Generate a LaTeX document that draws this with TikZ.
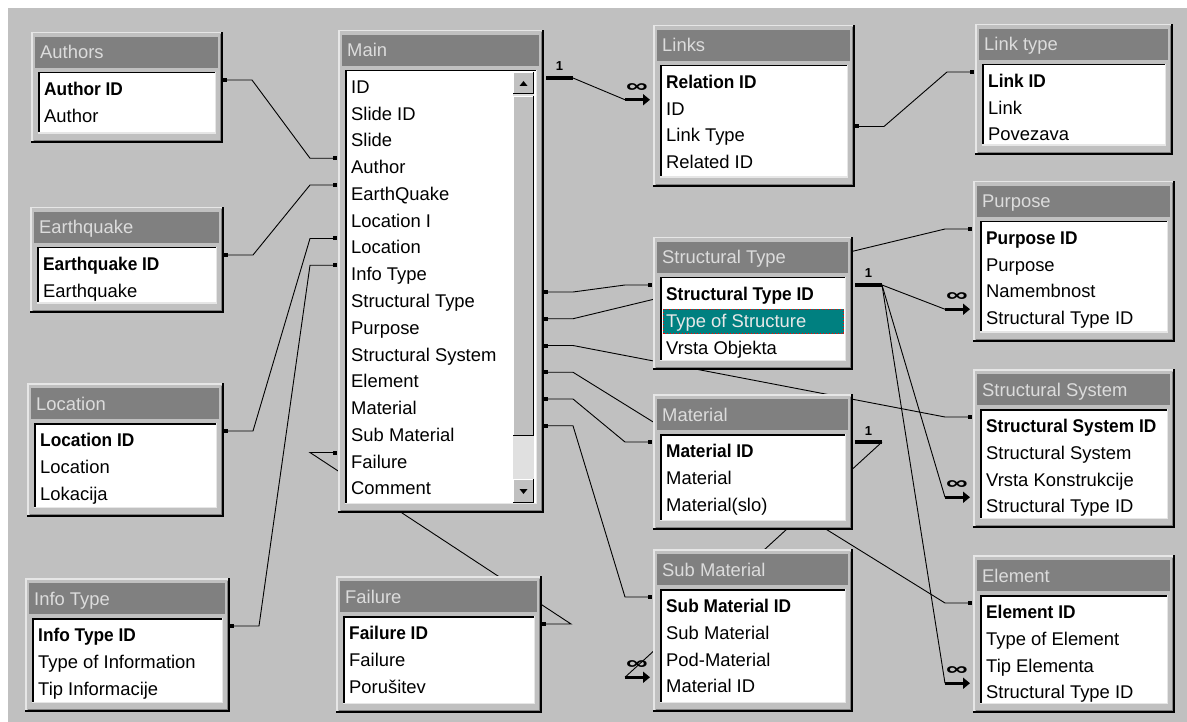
\documentclass[tikz,border=0pt]{standalone}
\usepackage{fontspec}
\setmainfont{Liberation Sans}
\usetikzlibrary{arrows.meta}

\definecolor{winface}{HTML}{C0C0C0}
\definecolor{wintitle}{HTML}{808080}
\definecolor{titletext}{HTML}{DCDCDC}
\definecolor{hlfill}{HTML}{008080}
\definecolor{hltext}{HTML}{E8E8E8}
\definecolor{track}{HTML}{E0E0E0}
\definecolor{rim}{HTML}{E6E6E6}

\pgfdeclarelayer{canvas}
\pgfdeclarelayer{wires}
\pgfsetlayers{canvas,wires,main}

\tikzset{
  rowtext/.style={anchor=west, inner sep=0pt, text height=13pt, text depth=4pt,
    font=\fontsize{18.4}{20}\selectfont},
  tbltitle/.style={anchor=west, inner sep=0pt, text height=13pt, text depth=4pt,
    text=titletext, font=\fontsize{18.4}{20}\selectfont},
  wire/.style={line width=0.9pt},
  onestub/.style={line width=4pt},
  manystub/.style={line width=3pt, -{Triangle[length=7pt,width=11pt]}},
  onelabel/.style={font=\fontsize{13}{13}\selectfont\bfseries, inner sep=0pt},
  manylabel/.style={font=\fontsize{19}{19}\selectfont\bfseries, inner sep=0pt},
}

\newcommand\keyfield[1]{{\bfseries\scalebox{0.94}[1]{#1}}}

% table window: name, x1, y1, x2, y2, title, fields, selected field
\newcommand\dbtable[8]{%
  \fill[winface] (#2,#3) rectangle (#4,#5);
  \draw[rim, line width=1.5pt] (#2+0.75,#5) -- (#2+0.75,#3+0.75) -- (#4,#3+0.75);
  \draw[wintitle] (#2+2.5,#5-2.5) -- (#4-2.5,#5-2.5) -- (#4-2.5,#3+2.5);
  \draw[line width=2pt] (#2,#5-1) -- (#4-1,#5-1) -- (#4-1,#3);
  \fill[wintitle] (#2+4,#3+5) rectangle (#4-5,#3+36);
  \node[tbltitle] (#1) at (#2+9,#3+22.5) {#6};
  \fill[white] (#2+7,#3+40) rectangle (#4-7,#5-9);
  \draw[line width=1.5pt] (#2+7.75,#5-9) -- (#2+7.75,#3+40.75) -- (#4-7,#3+40.75);
  \draw[rim, line width=1.5pt] (#2+7,#5-9.75) -- (#4-7.75,#5-9.75) -- (#4-7.75,#3+40);
  \foreach \f [count=\i] in {#7} {
    \ifnum\i=#8
      \fill[hlfill] (#2+10,{#3+45+26.75*(\i-1)}) rectangle (#4-9,{#3+70+26.75*(\i-1)});
      \draw[red, dotted, line width=1pt] (#2+10.5,{#3+45.5+26.75*(\i-1)}) rectangle (#4-9.5,{#3+69.5+26.75*(\i-1)});
    \fi
    \node[rowtext] (#1-\i) at (#2+13,{#3+59+26.75*(\i-1)}) {\ifnum\i=#8\color{hltext}\fi\f};
    \coordinate (#1-\i-w) at (#2-3,{#3+48+26.75*(\i-1)});
    \coordinate (#1-\i-e) at (#4+2,{#3+48+26.75*(\i-1)});
  }
}

\newcommand\winbutton[4]{%
  \fill[winface] (#1,#2) rectangle (#3,#4);
  \draw[white] (#1+0.5,#4) -- (#1+0.5,#2+0.5) -- (#3,#2+0.5);
  \draw[line width=1.2pt] (#1,#4-0.6) -- (#3-0.6,#4-0.6) -- (#3-0.6,#2);
}

% plain join, dots at both ends
\newcommand\rel[2]{%
  \draw[wire] (#1) -- ++(27,0) -- ([xshift=-25pt]#2) -- (#2);
  \fill ([xshift=-2pt,yshift=-2pt]#1) rectangle ([xshift=2pt,yshift=2pt]#1);
  \fill ([xshift=-2pt,yshift=-2pt]#2) rectangle ([xshift=2pt,yshift=2pt]#2);
}
\newcommand\relone[2]{%
  \draw[onestub] (#1) -- ++(27,0) node[midway, above=5pt, onelabel] (#2) {1};
}
\newcommand\relmany[3]{%
  \draw[wire] ([xshift=27pt]#1) -- ([xshift=-25pt]#2);
  \draw[manystub] ([xshift=-25pt]#2) -- (#2);
  \node[manylabel] (#3) at ([xshift=-13pt,yshift=12pt]#2) {\scalebox{1.6}[1]{∞}};
}

\begin{document}
\begin{tikzpicture}[x=1pt,y=-1pt]
\useasboundingbox (0,0) rectangle (1187,722);
\begin{pgfonlayer}{canvas}
  \fill[white] (0,0) rectangle (1187,722);
  \fill[winface] (8,8) rectangle (1187,722);
\end{pgfonlayer}

% left column
\dbtable{authors}{31}{32}{223}{143}{Authors}{\keyfield{Author ID},Author}{0}
\dbtable{earthquake}{30}{207}{224}{313}{Earthquake}{\keyfield{Earthquake ID},Earthquake}{0}
\dbtable{location}{27}{383}{224}{517}{Location}{\keyfield{Location ID},Location,Lokacija}{0}
\dbtable{infotype}{25}{578}{230}{712}{Info Type}{\keyfield{Info Type ID},Type of Information,Tip Informacije}{0}

% main table with its scroll bar
\dbtable{main}{338}{30}{544}{513}{Main}{ID,Slide ID,Slide,Author,EarthQuake,Location I,Location,Info Type,Structural Type,Purpose,Structural System,Element,Material,Sub Material,Failure,Comment}{0}
\fill[track] (513,72) rectangle (534,503);
\winbutton{513}{72}{534}{94}
\winbutton{513}{96}{534}{436}
\winbutton{513}{479}{534}{503}
\fill (519.5,86) -- (527.5,86) -- (523.5,81) -- cycle;
\fill (519.5,489) -- (527.5,489) -- (523.5,494) -- cycle;
\dbtable{failure}{336}{576}{542}{713}{Failure}{\keyfield{Failure ID},Failure,Porušitev}{0}

% middle column
\dbtable{links}{653}{25}{855}{187}{Links}{\keyfield{Relation ID},ID,Link Type,Related ID}{0}
\dbtable{sttype}{653}{237}{853}{370}{Structural Type}{\keyfield{Structural Type ID},Type of Structure,Vrsta Objekta}{2}
\dbtable{material}{653}{394}{853}{530}{Material}{\keyfield{Material ID},Material,Material(slo)}{0}
\dbtable{submaterial}{653}{549}{853}{712}{Sub Material}{\keyfield{Sub Material ID},Sub Material,Pod-Material,Material ID}{0}

% right column
\dbtable{linktype}{975}{24}{1173}{155}{Link type}{\keyfield{Link ID},Link,Povezava}{0}
\dbtable{purpose}{973}{181}{1175}{342}{Purpose}{\keyfield{Purpose ID},Purpose,Namembnost,Structural Type ID}{0}
\dbtable{stsystem}{973}{369}{1175}{528}{Structural System}{\keyfield{Structural System ID},Structural System,Vrsta Konstrukcije,Structural Type ID}{0}
\dbtable{element}{973}{555}{1175}{713}{Element}{\keyfield{Element ID},Type of Element,Tip Elementa,Structural Type ID}{0}

% relationships
\begin{pgfonlayer}{wires}
  \rel{authors-1-e}{main-4-w}
  \rel{earthquake-1-e}{main-5-w}
  \rel{location-1-e}{main-7-w}
  \rel{infotype-1-e}{main-8-w}
  \rel{failure-1-e}{main-15-w}
  \rel{main-9-e}{sttype-1-w}
  \rel{main-10-e}{purpose-1-w}
  \rel{main-11-e}{stsystem-1-w}
  \rel{main-12-e}{element-1-w}
  \rel{main-13-e}{material-1-w}
  \rel{main-14-e}{submaterial-1-w}
  \rel{links-3-e}{linktype-1-w}
  \relone{main-1-e}{one-main}
  \relmany{main-1-e}{links-2-w}{many-links}
  \relone{sttype-1-e}{one-sttype}
  \relmany{sttype-1-e}{purpose-4-w}{many-purpose}
  \relmany{sttype-1-e}{stsystem-4-w}{many-stsystem}
  \relmany{sttype-1-e}{element-4-w}{many-element}
  \relone{material-1-e}{one-material}
  \relmany{material-1-e}{submaterial-4-w}{many-submaterial}
\end{pgfonlayer}
\end{tikzpicture}
\end{document}
